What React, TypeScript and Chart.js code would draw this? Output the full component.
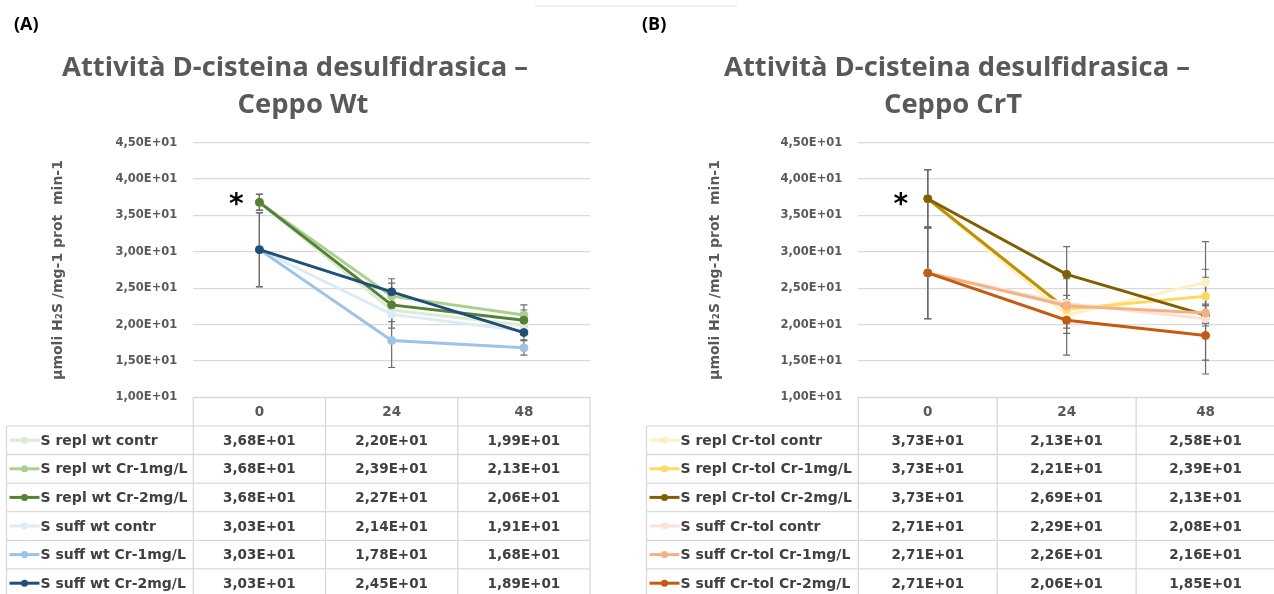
import React, { useEffect, useRef } from "react";
import { Chart, registerables } from "chart.js";

Chart.register(...registerables);

// ---------- shared ----------
const categories = ["0", "24", "48"];
const yMin = 10;
const yMax = 45;
const yStep = 5;
const yAxisTitle = "µmoli H₂S /mg-1 prot  min-1";

// ---------- Panel A (Ceppo Wt) ----------
const titleA = ["Attività D-cisteina desulfidrasica –", "Ceppo Wt"];
const namesA = [
  "S repl wt contr",
  "S repl wt Cr-1mg/L",
  "S repl wt Cr-2mg/L",
  "S suff wt contr",
  "S suff wt Cr-1mg/L",
  "S suff wt Cr-2mg/L",
];
const replWtContr = [36.8, 22.0, 19.9];
const replWtCr1 = [36.8, 23.9, 21.3];
const replWtCr2 = [36.8, 22.7, 20.6];
const suffWtContr = [30.3, 21.4, 19.1];
const suffWtCr1 = [30.3, 17.8, 16.8];
const suffWtCr2 = [30.3, 24.5, 18.9];
const errReplWtContr = [1.1, 2.5, 0.6];
const errReplWtCr1 = [1.1, 1.8, 1.4];
const errReplWtCr2 = [1.1, 1.5, 1.4];
const errSuffWtContr = [5.1, 1.0, 0.5];
const errSuffWtCr1 = [5.1, 3.7, 1.0];
const errSuffWtCr2 = [5.1, 1.8, 1.0];
const colorsA = ["#DCEBD2", "#A9D18E", "#548235", "#DDEBF7", "#9DC3E6", "#1F4E79"];

// ---------- Panel B (Ceppo CrT) ----------
const titleB = ["Attività D-cisteina desulfidrasica –", "Ceppo CrT"];
const namesB = [
  "S repl Cr-tol contr",
  "S repl Cr-tol Cr-1mg/L",
  "S repl Cr-tol Cr-2mg/L",
  "S suff Cr-tol contr",
  "S suff Cr-tol Cr-1mg/L",
  "S suff Cr-tol Cr-2mg/L",
];
const replTolContr = [37.3, 21.3, 25.8];
const replTolCr1 = [37.3, 22.1, 23.9];
const replTolCr2 = [37.3, 26.9, 21.3];
const suffTolContr = [27.1, 22.9, 20.8];
const suffTolCr1 = [27.1, 22.6, 21.6];
const suffTolCr2 = [27.1, 20.6, 18.5];
const errReplTolContr = [4.0, 5.5, 5.6];
const errReplTolCr1 = [4.0, 1.9, 3.7];
const errReplTolCr2 = [4.0, 3.8, 1.5];
const errSuffTolContr = [6.3, 3.4, 5.7];
const errSuffTolCr1 = [6.3, 0.8, 1.0];
const errSuffTolCr2 = [6.3, 1.8, 5.3];
const colorsB = ["#FFF0C4", "#FFD966", "#7F6000", "#FBE2D2", "#F4B183", "#C55A11"];

// ---------- helpers ----------
const fmtE = (v: number) => {
  const e = Math.floor(Math.log10(Math.abs(v)));
  const m = v / Math.pow(10, e);
  return (
    m.toFixed(2).replace(".", ",") +
    "E" +
    (e >= 0 ? "+" : "-") +
    String(Math.abs(e)).padStart(2, "0")
  );
};

const CANVAS_W = 640;
const CANVAS_H = 594;
const PLOT_TOP = 142.7;
const PLOT_BOTTOM = 397.3;
const ROW_H = 28.6;
const FONT = '"DejaVu Sans", sans-serif';
const TITLE_FONT = '"Open Sans", sans-serif';

type PanelCfg = {
  left: number;
  chartLeft: number;
  chartRight: number;
  yTitleX: number;
  label: string;
  labelX: number;
  title: string[];
  titleCx: number[];
  titleW: number;
  names: string[];
  values: number[][];
  errors: number[][];
  colors: string[];
  goldFirstSegment?: number;
  asteriskDx: number;
  asteriskValue: number;
};

const panelA: PanelCfg = {
  left: 0,
  chartLeft: 193.3,
  chartRight: 590,
  yTitleX: 58,
  label: "(A)",
  labelX: 14,
  title: titleA,
  titleCx: [295, 303],
  titleW: 466,
  names: namesA,
  values: [replWtContr, replWtCr1, replWtCr2, suffWtContr, suffWtCr1, suffWtCr2],
  errors: [errReplWtContr, errReplWtCr1, errReplWtCr2, errSuffWtContr, errSuffWtCr1, errSuffWtCr2],
  colors: colorsA,
  asteriskDx: -23,
  asteriskValue: 37.6,
};

const panelB: PanelCfg = {
  left: 640,
  chartLeft: 218.3,
  chartRight: 635,
  yTitleX: 75,
  label: "(B)",
  labelX: 2,
  title: titleB,
  titleCx: [317, 313],
  titleW: 466,
  names: namesB,
  values: [replTolContr, replTolCr1, replTolCr2, suffTolContr, suffTolCr1, suffTolCr2],
  errors: [errReplTolContr, errReplTolCr1, errReplTolCr2, errSuffTolContr, errSuffTolCr1, errSuffTolCr2],
  colors: colorsB,
  goldFirstSegment: 1,
  asteriskDx: -27,
  asteriskValue: 37.6,
};

const makeDecor = (cfg: PanelCfg) => ({
  id: "decor",
  beforeDatasetsDraw(chart: any) {
    const ctx = chart.ctx as CanvasRenderingContext2D;
    const ys = chart.scales.y;
    ctx.save();
    ctx.strokeStyle = "#6b6b6b";
    ctx.lineWidth = 1.2;
    cfg.values.forEach((vals, i) => {
      const meta = chart.getDatasetMeta(i);
      vals.forEach((v, j) => {
        const e = cfg.errors[i][j];
        const x = meta.data[j].x;
        const y1 = ys.getPixelForValue(v + e);
        const y2 = ys.getPixelForValue(v - e);
        ctx.beginPath();
        ctx.moveTo(x, y1);
        ctx.lineTo(x, y2);
        ctx.moveTo(x - 3.5, y1);
        ctx.lineTo(x + 3.5, y1);
        ctx.moveTo(x - 3.5, y2);
        ctx.lineTo(x + 3.5, y2);
        ctx.stroke();
      });
    });
    ctx.restore();
  },
  afterDraw(chart: any) {
    const ctx = chart.ctx as CanvasRenderingContext2D;
    const xs = chart.scales.x;
    const ys = chart.scales.y;
    const { left, right, bottom } = chart.chartArea;
    ctx.save();

    // panel label
    ctx.fillStyle = "#000000";
    ctx.font = `bold 18px ${TITLE_FONT}`;
    ctx.textAlign = "left";
    ctx.textBaseline = "alphabetic";
    ctx.fillText(cfg.label, cfg.labelX, 30);

    // title (two lines)
    ctx.font = `bold 27px ${TITLE_FONT}`;
    const w0 = ctx.measureText(cfg.title[0]).width;
    const sx = cfg.titleW / w0;
    ctx.fillStyle = "#595959";
    ctx.textAlign = "center";
    const baselines = [76, 113];
    cfg.title.forEach((t, k) => {
      ctx.save();
      ctx.translate(cfg.titleCx[k], baselines[k]);
      ctx.scale(sx, 1);
      ctx.fillText(t, 0, 0);
      ctx.restore();
    });

    // asterisk
    ctx.fillStyle = "#000000";
    ctx.font = `bold 28px ${FONT}`;
    ctx.textAlign = "center";
    ctx.fillText(
      "*",
      xs.getPixelForValue(0) + cfg.asteriskDx,
      ys.getPixelForValue(cfg.asteriskValue) + 16
    );

    // data table
    const n = cfg.names.length;
    const colW = (right - left) / categories.length;
    const headTop = bottom;
    const bodyTop = headTop + ROW_H;
    const legendLeft = 6.5;
    const tableBottom = bodyTop + n * ROW_H;
    ctx.strokeStyle = "#d9d9d9";
    ctx.lineWidth = 1.3;
    ctx.beginPath();
    ctx.moveTo(left, headTop);
    ctx.lineTo(right, headTop);
    for (let r = 0; r <= n; r++) {
      const y = bodyTop + r * ROW_H;
      ctx.moveTo(legendLeft, y);
      ctx.lineTo(right, y);
    }
    for (let c = 0; c <= categories.length; c++) {
      const x = left + c * colW;
      ctx.moveTo(x, headTop);
      ctx.lineTo(x, tableBottom);
    }
    ctx.moveTo(legendLeft, bodyTop);
    ctx.lineTo(legendLeft, tableBottom);
    ctx.stroke();

    // header labels
    ctx.textBaseline = "middle";
    ctx.textAlign = "center";
    ctx.fillStyle = "#595959";
    ctx.font = `bold 13.5px ${FONT}`;
    categories.forEach((c, j) => {
      ctx.fillText(c, xs.getPixelForValue(j), headTop + ROW_H / 2 + 1);
    });

    // rows
    cfg.names.forEach((name, i) => {
      const cy = bodyTop + i * ROW_H + ROW_H / 2;
      ctx.strokeStyle = cfg.colors[i];
      ctx.lineWidth = 3;
      ctx.beginPath();
      ctx.moveTo(legendLeft + 3, cy);
      ctx.lineTo(legendLeft + 33, cy);
      ctx.stroke();
      ctx.fillStyle = cfg.colors[i];
      ctx.beginPath();
      ctx.arc(legendLeft + 18, cy, 3.5, 0, Math.PI * 2);
      ctx.fill();
      ctx.fillStyle = "#404040";
      ctx.textAlign = "left";
      ctx.font = `bold 14px ${FONT}`;
      ctx.fillText(name, legendLeft + 34, cy + 1);
      ctx.textAlign = "center";
      ctx.font = `bold 13.5px ${FONT}`;
      cfg.values[i].forEach((v, j) => {
        ctx.fillText(fmtE(v), xs.getPixelForValue(j), cy + 1);
      });
    });

    ctx.restore();
  },
});

function Panel({ cfg }: { cfg: PanelCfg }) {
  const ref = useRef<HTMLCanvasElement | null>(null);
  useEffect(() => {
    if (!ref.current) return;
    const n = cfg.values.length;
    const chart = new Chart(ref.current, {
      type: "line",
      data: {
        labels: categories,
        datasets: cfg.values.map((vals, i) => ({
          label: cfg.names[i],
          data: vals,
          borderColor: cfg.colors[i],
          backgroundColor: cfg.colors[i],
          pointBackgroundColor: cfg.colors[i],
          pointBorderColor: cfg.colors[i],
          borderWidth: 3,
          pointRadius: 4,
          pointBorderWidth: 1,
          tension: 0,
          fill: false,
          order: n - i,
          segment:
            cfg.goldFirstSegment === i
              ? {
                  borderColor: (c: any) => (c.p0DataIndex === 0 ? "#BF9000" : undefined),
                }
              : undefined,
        })),
      },
      options: {
        responsive: false,
        animation: false,
        devicePixelRatio: 1,
        layout: {
          padding: {
            left: 0,
            right: CANVAS_W - cfg.chartRight,
            top: PLOT_TOP,
            bottom: CANVAS_H - PLOT_BOTTOM,
          },
        },
        plugins: {
          legend: { display: false },
          title: { display: false },
          tooltip: { enabled: false },
        },
        scales: {
          x: { type: "category", display: false, offset: true },
          y: {
            min: yMin,
            max: yMax,
            ticks: {
              stepSize: yStep,
              padding: 16,
              color: "#595959",
              font: { family: FONT, weight: "bold", size: 11.5 },
              callback: (v: any) => fmtE(Number(v)),
            },
            grid: { color: "#d9d9d9", lineWidth: 1.3, drawTicks: false },
            border: { display: false },
            title: {
              display: true,
              text: yAxisTitle,
              color: "#595959",
              font: { family: FONT, weight: "bold", size: 14 },
              padding: { top: cfg.yTitleX - 8.4, bottom: 0 },
            },
            afterFit: (s: any) => {
              s.width = cfg.chartLeft;
            },
          },
        },
      },
      plugins: [makeDecor(cfg)],
    } as any);
    return () => chart.destroy();
  }, [cfg]);
  return (
    <canvas
      ref={ref}
      width={CANVAS_W}
      height={CANVAS_H}
      style={{ position: "absolute", left: cfg.left, top: 0, width: CANVAS_W, height: CANVAS_H }}
    />
  );
}

export default function App() {
  return (
    <div
      style={{
        position: "absolute",
        left: 0,
        top: 0,
        width: 1274,
        height: 594,
        overflow: "hidden",
        background: "#ffffff",
      }}
    >
      <div
        style={{
          position: "absolute",
          left: 535,
          top: 5,
          width: 202,
          height: 2,
          background: "#f1f1f1",
        }}
      />
      <Panel cfg={panelA} />
      <Panel cfg={panelB} />
    </div>
  );
}
